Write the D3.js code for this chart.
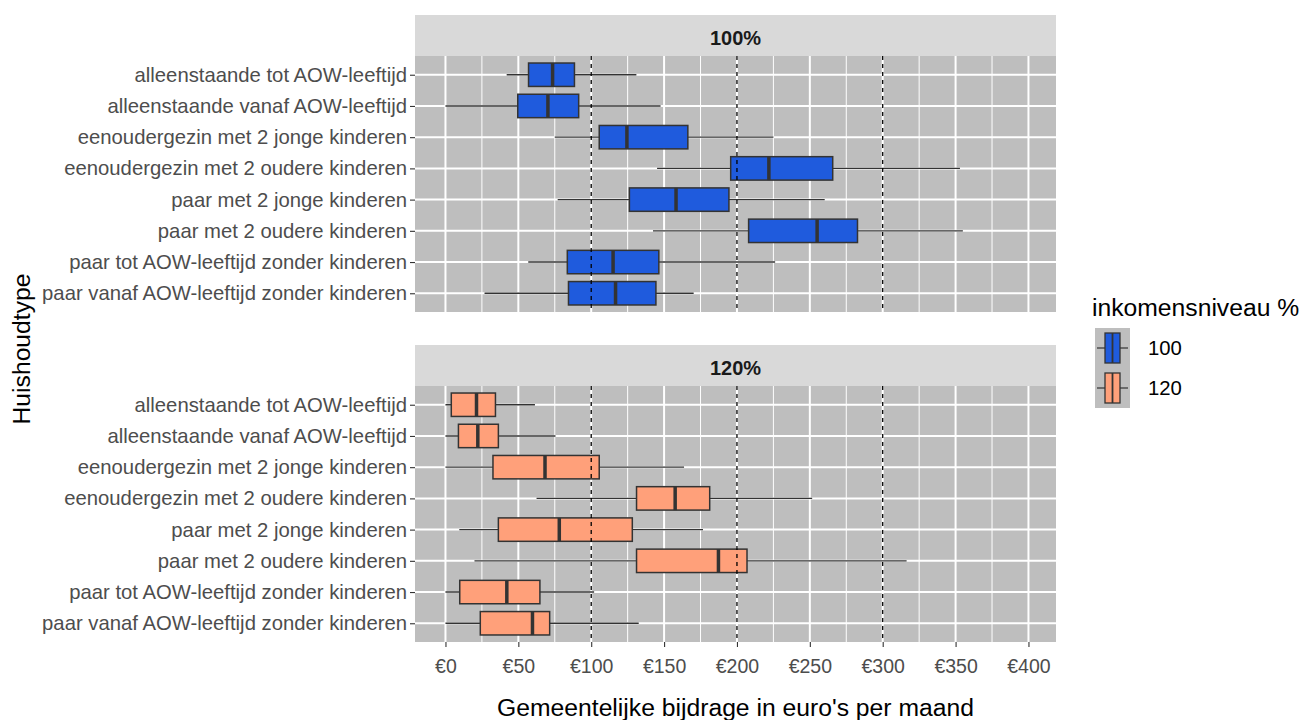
<!DOCTYPE html>
<html>
<head>
<meta charset="utf-8">
<script src="https://cdn.jsdelivr.net/npm/d3@7"></script>
<style>
  body { margin: 0; background: #fff; }
  svg { font-family: "Liberation Sans", Arial, sans-serif; }
</style>
</head>
<body>
<div id="chart"></div>
<script>
// household types (y categories), top to bottom
var huishoudtypes = [
    "alleenstaande tot AOW-leeftijd",
    "alleenstaande vanaf AOW-leeftijd",
    "eenoudergezin met 2 jonge kinderen",
    "eenoudergezin met 2 oudere kinderen",
    "paar met 2 jonge kinderen",
    "paar met 2 oudere kinderen",
    "paar tot AOW-leeftijd zonder kinderen",
    "paar vanaf AOW-leeftijd zonder kinderen"
];

var niveaus = ["100", "120"];

// box stats per household type: [whisker low, q1, median, q3, whisker high]
var stats100 = [
    [42, 57, 73.5, 88.5, 131],
    [0, 49.6, 70.3, 91.4, 147.6],
    [75, 105.5, 124.5, 166.3, 225],
    [145.2, 195.7, 221.9, 265.7, 353],
    [77, 126.2, 158.2, 194.5, 260.2],
    [142.4, 208, 255, 282.7, 355],
    [56.8, 83.6, 115, 146.4, 226.2],
    [26.8, 84.4, 116.7, 144.4, 170.3]
];

var stats120 = [
    [0, 4, 21.3, 34.3, 61.4],
    [0, 8.9, 22.2, 36.3, 75.5],
    [0, 32.6, 68.3, 105.5, 163.7],
    [62.5, 131.1, 157.6, 181.3, 251.6],
    [9.5, 36.3, 78.1, 128.2, 176.7],
    [19.9, 131.1, 187.3, 206.9, 316.4],
    [0, 9.8, 42.1, 64.8, 102],
    [0, 23.9, 59.7, 71.5, 132.6]
];

var xTicks = [0, 50, 100, 150, 200, 250, 300, 350, 400];
var refLines = [100, 200, 300];

var colors = { "100": "#1f5bdd", "120": "#ffa07a" };

var svgWidth = 1305;
var svgHeight = 720;

var panelLeft = 415, panelRight = 1056;
var panels = [
    { key: "100", label: "100%", stripTop: 15, top: 56, bottom: 312, stats: stats100 },
    { key: "120", label: "120%", stripTop: 345, top: 386, bottom: 642, stats: stats120 }
];

var svg = d3.select("#chart")
    .append("svg")
    .attr("width", svgWidth)
    .attr("height", svgHeight);

var xScale = d3.scaleLinear()
    .domain([-20.9, 418.9])
    .range([panelLeft, panelRight]);

var minorTicks = d3.range(25, 400, 50);

panels.forEach(function(p) {
    var yScale = d3.scalePoint()
        .domain(huishoudtypes)
        .range([p.top, p.bottom])
        .padding(0.6);
    var boxH = yScale.step() * 0.75;

    // strip
    svg.append("rect")
        .attr("x", panelLeft).attr("y", p.stripTop)
        .attr("width", panelRight - panelLeft).attr("height", p.top - p.stripTop)
        .attr("fill", "#d9d9d9");
    svg.append("text")
        .attr("x", (panelLeft + panelRight) / 2)
        .attr("y", (p.stripTop + p.top) / 2 + 2)
        .attr("dy", "0.35em")
        .attr("text-anchor", "middle")
        .attr("font-size", "20px")
        .attr("font-weight", "bold")
        .attr("fill", "#1a1a1a")
        .text(p.label);

    // panel background
    svg.append("rect")
        .attr("x", panelLeft).attr("y", p.top)
        .attr("width", panelRight - panelLeft).attr("height", p.bottom - p.top)
        .attr("fill", "#bebebe");

    var g = svg.append("g");

    // grid
    g.selectAll(".minor")
        .data(minorTicks).enter().append("line")
        .attr("x1", d => xScale(d)).attr("x2", d => xScale(d))
        .attr("y1", p.top).attr("y2", p.bottom)
        .attr("stroke", "#fff").attr("stroke-width", 1);
    g.selectAll(".major")
        .data(xTicks).enter().append("line")
        .attr("x1", d => xScale(d)).attr("x2", d => xScale(d))
        .attr("y1", p.top).attr("y2", p.bottom)
        .attr("stroke", "#fff").attr("stroke-width", 2);
    g.selectAll(".hgrid")
        .data(huishoudtypes).enter().append("line")
        .attr("x1", panelLeft).attr("x2", panelRight)
        .attr("y1", d => yScale(d)).attr("y2", d => yScale(d))
        .attr("stroke", "#fff").attr("stroke-width", 2);

    // boxplots
    var rows = huishoudtypes.map(function(h, i) { return { h: h, s: p.stats[i] }; });

    g.selectAll(".whisker")
        .data(rows).enter().append("line")
        .attr("x1", d => xScale(d.s[0])).attr("x2", d => xScale(d.s[4]))
        .attr("y1", d => yScale(d.h)).attr("y2", d => yScale(d.h))
        .attr("stroke", "#333").attr("stroke-width", 1.4);

    g.selectAll(".box")
        .data(rows).enter().append("rect")
        .attr("x", d => xScale(d.s[1]))
        .attr("width", d => xScale(d.s[3]) - xScale(d.s[1]))
        .attr("y", d => yScale(d.h) - boxH / 2)
        .attr("height", boxH)
        .attr("fill", colors[p.key])
        .attr("stroke", "#333").attr("stroke-width", 1.5);

    g.selectAll(".median")
        .data(rows).enter().append("line")
        .attr("x1", d => xScale(d.s[2])).attr("x2", d => xScale(d.s[2]))
        .attr("y1", d => yScale(d.h) - boxH / 2).attr("y2", d => yScale(d.h) + boxH / 2)
        .attr("stroke", "#333").attr("stroke-width", 3.5);

    // dashed reference lines
    g.selectAll(".ref")
        .data(refLines).enter().append("line")
        .attr("x1", d => xScale(d)).attr("x2", d => xScale(d))
        .attr("y1", p.top).attr("y2", p.bottom)
        .attr("stroke", "#000").attr("stroke-width", 1.3)
        .attr("stroke-dasharray", "4,4");

    // y axis
    var leftAxis = d3.axisLeft(yScale).tickSize(5).tickPadding(3);
    var ya = svg.append("g")
        .attr("transform", `translate(${panelLeft}, 0)`)
        .call(leftAxis);
    ya.select(".domain").remove();
    ya.selectAll("line").attr("stroke", "#333").attr("stroke-width", 1.1);
    ya.selectAll("text")
        .attr("font-size", "20.3px")
        .attr("fill", "#4d4d4d")
        .attr("font-family", "Liberation Sans, Arial, sans-serif");
});

// x axis under the lower panel
var bottomAxis = d3.axisBottom(xScale)
    .tickValues(xTicks)
    .tickFormat(d => "€" + d)
    .tickSize(5).tickPadding(12);
var xa = svg.append("g")
    .attr("transform", `translate(0, ${panels[1].bottom})`)
    .call(bottomAxis);
xa.select(".domain").remove();
xa.selectAll("line").attr("stroke", "#333").attr("stroke-width", 1.1);
xa.selectAll("text")
    .attr("font-size", "19.5px")
    .attr("fill", "#4d4d4d")
    .attr("font-family", "Liberation Sans, Arial, sans-serif");

// axis titles
svg.append("text")
    .attr("x", (panelLeft + panelRight) / 2)
    .attr("y", 716)
    .attr("text-anchor", "middle")
    .attr("font-size", "24.7px")
    .attr("fill", "#000")
    .text("Gemeentelijke bijdrage in euro's per maand");

svg.append("text")
    .attr("transform", `translate(30, ${(panels[0].top + panels[1].bottom) / 2}) rotate(-90)`)
    .attr("text-anchor", "middle")
    .attr("font-size", "24.7px")
    .attr("fill", "#000")
    .text("Huishoudtype");

// legend
var legend = svg.append("g").attr("transform", "translate(1095, 0)");
legend.append("text")
    .attr("x", -3).attr("y", 316)
    .attr("font-size", "24.7px")
    .attr("fill", "#000")
    .text("inkomensniveau %");

var keyW = 35, keyH = 40, keyTop = 328;
niveaus.forEach(function(n, i) {
    var ky = keyTop + i * keyH;
    var cy = ky + keyH / 2;
    legend.append("rect")
        .attr("x", 0).attr("y", ky)
        .attr("width", keyW).attr("height", keyH)
        .attr("fill", "#bebebe");
    legend.append("line")
        .attr("x1", 2).attr("x2", keyW - 2)
        .attr("y1", cy).attr("y2", cy)
        .attr("stroke", "#333").attr("stroke-width", 1.2);
    legend.append("rect")
        .attr("x", 10).attr("y", ky + 5)
        .attr("width", keyW - 20).attr("height", keyH - 10)
        .attr("fill", colors[n])
        .attr("stroke", "#333").attr("stroke-width", 1.3);
    legend.append("line")
        .attr("x1", keyW / 2).attr("x2", keyW / 2)
        .attr("y1", ky + 5).attr("y2", ky + keyH - 5)
        .attr("stroke", "#333").attr("stroke-width", 1.8);
    legend.append("text")
        .attr("x", 53).attr("y", cy)
        .attr("dy", "0.35em")
        .attr("font-size", "20.3px")
        .attr("fill", "#000")
        .text(n);
});
</script>
</body>
</html>
